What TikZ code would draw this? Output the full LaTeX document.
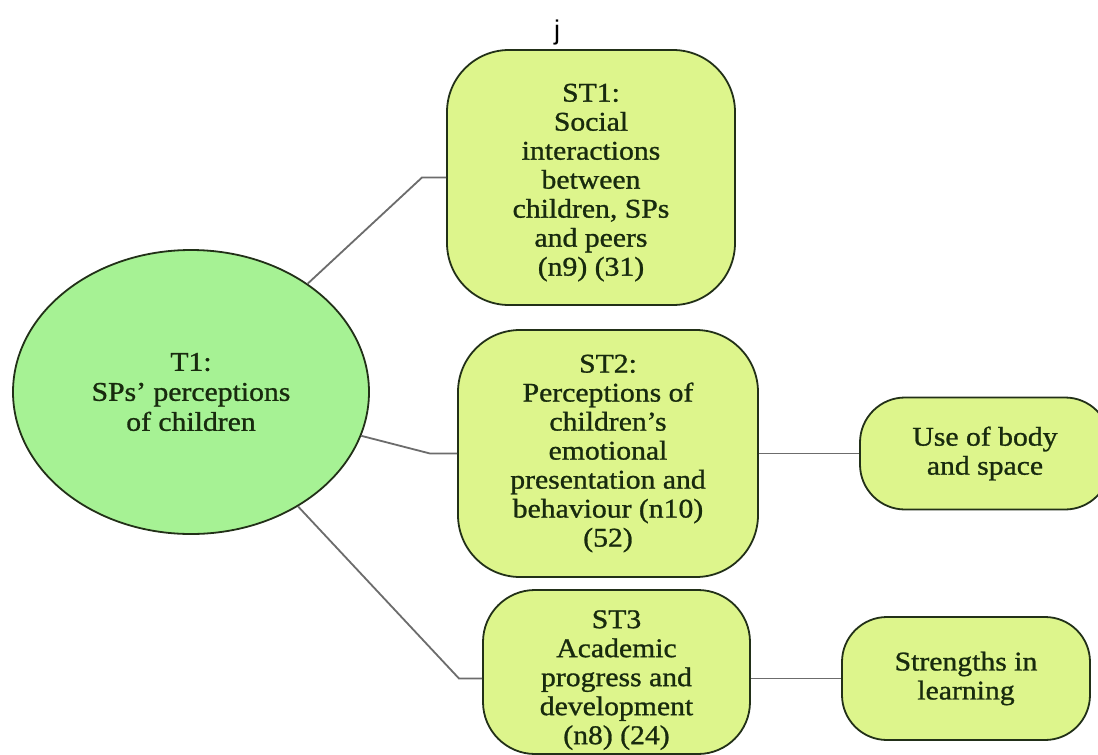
\documentclass[tikz,border=0pt]{standalone}
\usepackage{fontspec}
\setmainfont{Liberation Serif}[FakeStretch=1.1,FakeBold=1]
\newfontfamily\jfont{Liberation Sans}
\usetikzlibrary{shapes.geometric}
\definecolor{circfill}{RGB}{166,242,148}
\definecolor{boxfill}{RGB}{221,245,140}
\definecolor{edgecol}{RGB}{34,48,24}
\definecolor{txtcol}{RGB}{24,42,14}
\definecolor{linkcol}{RGB}{108,108,108}
\tikzset{
  themebox/.style={draw=edgecol, line width=1.8pt, fill=boxfill, rectangle,
    inner sep=0pt, align=center, text=txtcol,
    font=\fontsize{27}{29}\selectfont},
  themecirc/.style={draw=edgecol, line width=1.8pt, fill=circfill, ellipse,
    inner sep=0pt, align=center, text=txtcol,
    font=\fontsize{27}{30}\selectfont},
  link/.style={draw=linkcol, line width=1.8pt}
}
\begin{document}
\begin{tikzpicture}[x=1pt,y=-1pt]
\useasboundingbox (0,0) rectangle (1098,755);
\clip (0,0) rectangle (1098,755);
\fill[white] (0,0) rectangle (1098,755);

\node[font=\jfont\fontsize{27}{30}\selectfont] (j) at (557,33) {j};

\node[themecirc, minimum width=356pt, minimum height=284pt] (t1) at (191,392)
  {T1:\\SPs’ perceptions\\of children};

\node[themebox, minimum width=288pt, minimum height=255pt, rounded corners=62pt] (st1) at (591,177.5)
  {\rule{0pt}{28pt}ST1:\\Social\\interactions\\between\\children, SPs\\and peers\\(n9) (31)};

\node[themebox, minimum width=300pt, minimum height=247pt, rounded corners=62pt] (st2) at (608,453.5)
  {ST2:\\Perceptions of\\children’s\\emotional\\presentation and\\behaviour (n10)\\(52)};

\node[themebox, minimum width=267pt, minimum height=164pt, rounded corners=52pt] (st3) at (616.5,672)
  {\rule{0pt}{34pt}ST3\\Academic\\progress and\\development\\(n8) (24)};

\node[themebox, minimum width=250pt, minimum height=112pt, rounded corners=45pt] (use) at (985,453.5)
  {Use of body\\and space};

\node[themebox, minimum width=248pt, minimum height=123pt, rounded corners=45pt] (str) at (966,678.5)
  {Strengths in\\learning};

\coordinate (k1) at (422,177.5);
\coordinate (k2) at (430,453.5);
\coordinate (k3) at (459,678.5);

\draw[link] (t1) -- (k1) -- (k1 -| st1.west);
\draw[link] (t1) -- (k2) -- (st2.west);
\draw[link] (t1) -- (k3) -- (k3 -| st3.west);
\draw[link] (st2.east) -- (use.west);
\draw[link] (k3 -| st3.east) -- (str.west);
\end{tikzpicture}
\end{document}
